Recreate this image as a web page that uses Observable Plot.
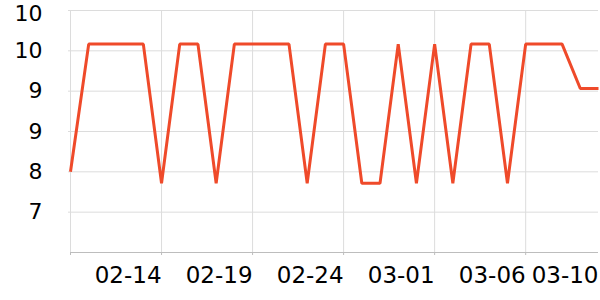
<!DOCTYPE html>
<html>
<head>
<meta charset="utf-8">
<script src="https://cdn.jsdelivr.net/npm/d3@7"></script>
<script src="https://cdn.jsdelivr.net/npm/@observablehq/plot@0.6"></script>
<style>
  html, body { margin: 0; padding: 0; background: #fff; }
  #chart { width: 600px; height: 300px; }
</style>
</head>
<body>
<div id="chart"></div>
<script>
// Daily dates 2023-02-09 .. 2023-03-10
const dates = [
  "2023-02-09","2023-02-10","2023-02-11","2023-02-12","2023-02-13","2023-02-14",
  "2023-02-15","2023-02-16","2023-02-17","2023-02-18","2023-02-19","2023-02-20",
  "2023-02-21","2023-02-22","2023-02-23","2023-02-24","2023-02-25","2023-02-26",
  "2023-02-27","2023-02-28","2023-03-01","2023-03-02","2023-03-03","2023-03-04",
  "2023-03-05","2023-03-06","2023-03-07","2023-03-08","2023-03-09","2023-03-10"
];
const values = [
  8.0, 9.9, 9.9, 9.9, 9.9, 7.83,
  9.9, 9.9, 7.83, 9.9, 9.9, 9.9,
  9.9, 7.83, 9.9, 9.9, 7.83, 7.83,
  9.9, 7.83, 9.9, 7.83, 9.9, 9.9,
  7.83, 9.9, 9.9, 9.9, 9.24, 9.24
];
const yDomain = [6.8, 10.4];
const yTicks = [10.4, 9.8, 9.2, 8.6, 8.0, 7.4];
const yTickLabels = ["10", "10", "9", "9", "8", "7"];
const xGridDates = ["2023-02-09","2023-02-14","2023-02-19","2023-02-24","2023-03-01","2023-03-06"];
const xLabelDates = ["2023-02-14","2023-02-19","2023-02-24","2023-03-01","2023-03-06","2023-03-10"];
const xTickLabels = ["02-14","02-19","02-24","03-01","03-06","03-10"];

const parse = d3.utcParse("%Y-%m-%d");
const data = dates.map((d, i) => ({date: parse(d), value: values[i]}));
const gridD = xGridDates.map(parse);
const labelD = xLabelDates.map((d, i) => ({date: parse(d), label: xTickLabels[i]}));
const yT = yTicks.map((v, i) => ({value: v, label: yTickLabels[i]}));

const chart = Plot.plot({
  width: 600,
  height: 300,
  marginLeft: 70,
  marginRight: 2,
  marginTop: 10,
  marginBottom: 48,
  style: {fontFamily: "'DejaVu Sans', sans-serif", fontSize: "22px", background: "#fff", color: "#000"},
  x: {type: "utc", domain: [data[0].date, data[data.length - 1].date], axis: null},
  y: {type: "linear", domain: yDomain, axis: null},
  marks: [
    Plot.ruleY(yT, {y: "value", stroke: "#dcdcdc", strokeWidth: 1, strokeOpacity: 1, insetLeft: -2}),
    Plot.ruleX(gridD, {stroke: "#dcdcdc", strokeWidth: 1, strokeOpacity: 1}),
    Plot.ruleY([yDomain[0]], {stroke: "#bdbdbd", strokeWidth: 1, strokeOpacity: 1}),
    Plot.ruleX(gridD, {x: d => d, y1: () => yDomain[0], y2: () => yDomain[0], stroke: "#bdbdbd", insetBottom: -3, strokeOpacity: 1}),
    Plot.text(yT.slice(0, 1), {
      frameAnchor: "left", y: "value", text: "label",
      textAnchor: "end", dx: -28, dy: 3, fontSize: 22, fill: "#000"
    }),
    Plot.text(yT.slice(1), {
      frameAnchor: "left", y: "value", text: "label",
      textAnchor: "end", dx: -28, fontSize: 22, fill: "#000"
    }),
    Plot.text(labelD, {
      x: "date", y: () => yDomain[0], text: "label",
      textAnchor: "end", dy: 23, fontSize: 23, fill: "#000"
    }),
    Plot.line(data, {x: "date", y: "value", stroke: "#ef4a2a", strokeWidth: 3, strokeLinejoin: "miter", strokeLinecap: "butt"})
  ]
});
document.getElementById("chart").appendChild(chart);
</script>
</body>
</html>
